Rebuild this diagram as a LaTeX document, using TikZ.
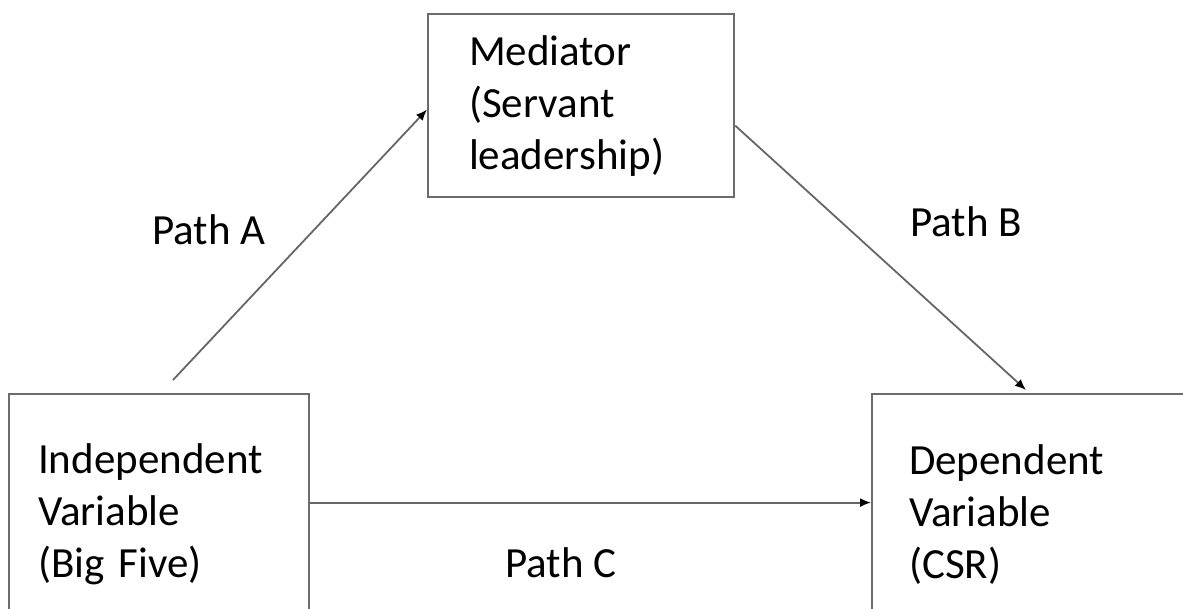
\documentclass[tikz,border=0pt]{standalone}
\usepackage{fontspec}
\setmainfont{Carlito}
\usetikzlibrary{arrows.meta}

\begin{document}
\begin{tikzpicture}[x=1pt,y=-1pt,
    box/.style={draw=gray!85!black,line width=2.2pt,anchor=north west,align=left,
      font=\fontsize{43}{52}\selectfont,inner ysep=0pt},
    conn/.style={draw=gray!80!black,line width=1.8pt,-{Latex[black,length=11pt,width=9pt]}},
    lbl/.style={anchor=base west,inner sep=0pt,font=\fontsize{43}{52}\selectfont}]
            \useasboundingbox (0,0) rectangle (1183,609);
            \clip (0,0) rectangle (1183,609);
            \node[box,inner xsep=41pt,text width=224pt,minimum height=183pt] (med) at (427,13) {Mediator\\(Servant\\leadership)};
            \node[box,inner xsep=29pt,text width=242pt,minimum height=241pt] (iv) at (8,393) {Independent\\Variable\\(Big Five)};
            \node[box,inner xsep=37pt,text width=326pt,minimum height=241pt] (dv) at (871,393) {Dependent\\Variable\\(CSR)};
            \coordinate (a0) at (173,380);
            \draw[conn] (a0) -- ([yshift=-4pt]med.west);
            \draw[conn] ([yshift=-20pt]med.east) -- ([xshift=155pt,yshift=3pt]dv.north west);
            \draw[conn] ([yshift=12pt]iv.east) -- ([yshift=12pt]dv.west);
            \node[lbl] (pa) at (152,245) {Path A};
            \node[lbl] (pb) at (910,237) {Path B};
            \node[lbl] (pc) at (505,577) {Path C};
          \end{tikzpicture}
\end{document}
